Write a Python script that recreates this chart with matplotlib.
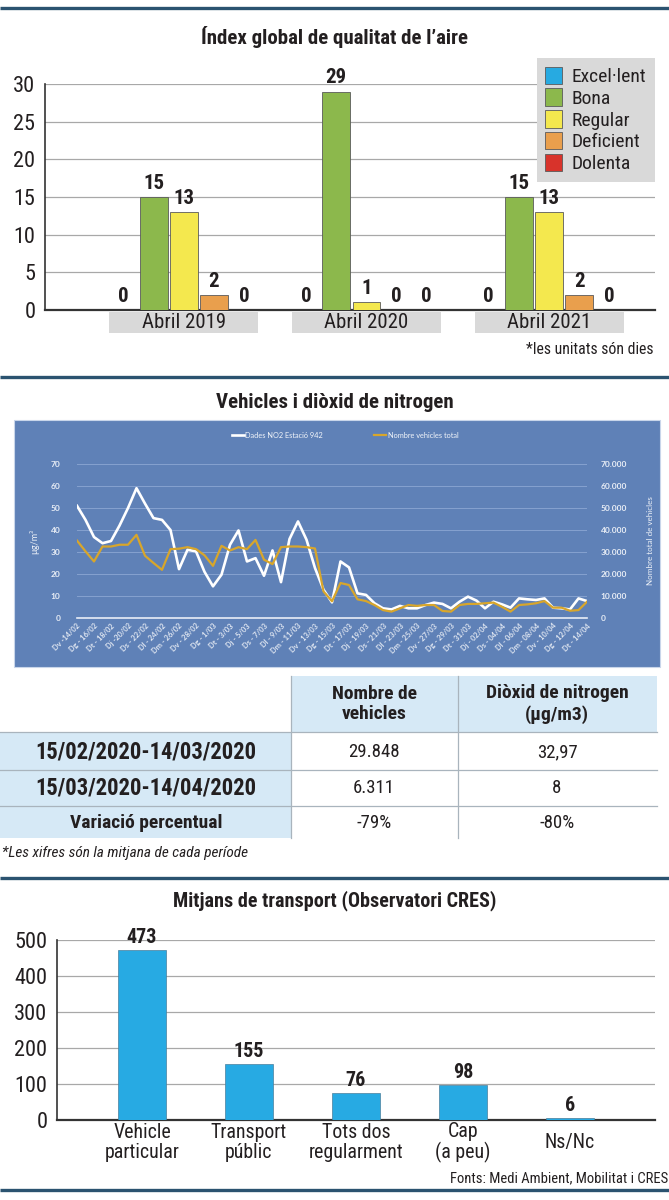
import numpy as np
import matplotlib
matplotlib.use('Agg')
import matplotlib.pyplot as plt
from matplotlib import font_manager
from matplotlib.patches import Rectangle

# pick a condensed face if there is one
fonts = font_manager.fontManager.ttflist
names = {f.name for f in fonts}
narrow = None
for cand in ['Roboto Condensed', 'Liberation Sans Narrow', 'Open Sans Condensed', 'Noto Sans Display']:
    if cand in names:
        narrow = cand
        break
stretch = 'normal'
if narrow is None:
    if any(f.name == 'DejaVu Sans' and f.stretch == 'condensed' for f in fonts):
        narrow = 'DejaVu Sans'
        stretch = 'condensed'
    else:
        narrow = 'Roboto' if 'Roboto' in names else 'DejaVu Sans'
plt.rcParams['font.family'] = [narrow, 'DejaVu Sans']
plt.rcParams['font.stretch'] = stretch
small_font = ['Lato', 'DejaVu Sans']

# --- chart 1: air quality index (days) ---
periods = ['Abril 2019', 'Abril 2020', 'Abril 2021']
quality = ['Excel·lent', 'Bona', 'Regular', 'Deficient', 'Dolenta']
excellent = [0, 0, 0]
good = [15, 29, 15]
regular = [13, 1, 13]
deficient = [2, 0, 2]
bad = [0, 0, 0]
quality_colors = ['#27aae1', '#8cb84c', '#f4e84e', '#e99f4d', '#d8332b']

# --- chart 2: NO2 and vehicles, 14/02/2020 - 14/04/2020 ---
day_labels = ['Dv -14/02', 'Dg - 16/02', 'Dt - 18/02', 'Dj -20/02', 'Ds - 22/02',
              'Dl - 24/02', 'Dm - 26/02', 'Dv - 28/02', 'Dg - 1/03', 'Dt - 3/03',
              'Dj - 5/03', 'Ds - 7/03', 'Dl - 9/03', 'Dm - 11/03', 'Dv - 13/03',
              'Dg - 15/03', 'Dt - 17/03', 'Dj - 19/03', 'Ds - 21/03', 'Dl - 23/03',
              'Dm - 25/03', 'Dv - 27/03', 'Dg - 29/03', 'Dt - 31/03', 'Dj - 02/04',
              'Ds - 04/04', 'Dl - 06/04', 'Dm - 08/04', 'Dv - 10/04', 'Dg - 12/04',
              'Dt - 14/04']
no2 = [51, 44.6, 36.8, 34, 35, 42, 50, 59, 52, 45.4,
       44.6, 40, 22.2, 31, 30.3, 21, 14.4, 19.7, 33.3, 39.8,
       25.7, 27.2, 19.2, 30.7, 16.3, 35.9, 43.9, 35.6, 22.7, 12.9,
       7.1, 25.7, 23, 11.2, 10.5, 6.7, 4.4, 3.9, 5.5, 4.4,
       4.4, 5.9, 7, 6.4, 4.4, 7.4, 9.7, 7.9, 4.4, 7.4,
       6.2, 4.7, 8.9, 8.5, 8.2, 8.9, 4.7, 4.4, 3.9, 8.9, 7.7]
vehicles = [35200, 30300, 25700, 32500, 32500, 33300, 33300, 37800, 28300, 25000,
            21900, 31300, 31500, 32200, 31300, 28500, 23700, 32800, 30700, 32200,
            31300, 35500, 26500, 24500, 32200, 32500, 32500, 32200, 31600, 12100,
            7600, 15900, 15000, 8500, 7700, 5900, 3600, 2900, 4400, 5900,
            5500, 5900, 5900, 3200, 2900, 5900, 6400, 6400, 6700, 7000,
            5100, 2900, 5900, 6200, 6700, 7700, 4700, 4700, 3300, 3600, 7400]

# --- table ---
table_cols = ['Nombre de\nvehicles', 'Diòxid de nitrogen\n(µg/m3)']
table_rows = ['15/02/2020-14/03/2020', '15/03/2020-14/04/2020', 'Variació percentual']
vehicles_col = ['29.848', '6.311', '-79%']
no2_col = ['32,97', '8', '-80%']

# --- chart 3: transport modes ---
modes = ['Vehicle\nparticular', 'Transport\npúblic', 'Tots dos\nregularment', 'Cap\n(a peu)', 'Ns/Nc']
mode_counts = [473, 155, 76, 98, 6]

W, H = 669, 1200
dark = '#231f20'
rule = '#2b5370'
grid = '#a8a8a8'

fig = plt.figure(figsize=(W / 100, H / 100), dpi=100)

# overlay in pixel coordinates for rules, panel and table
ov = fig.add_axes([0, 0, 1, 1])
ov.set_xlim(0, W)
ov.set_ylim(H, 0)
ov.axis('off')


def ax_at(x0, y0, x1, y1):
    return fig.add_axes([x0 / W, 1 - y1 / H, (x1 - x0) / W, (y1 - y0) / H])


for y in [8, 377, 878, 1190]:
    ov.plot([0, W], [y, y], color=rule, lw=2.4, solid_capstyle='butt')

# ---------------- chart 1 ----------------
ov.text(W / 2, 37, 'Índex global de qualitat de l’aire', ha='center', va='center',
        fontsize=15, fontweight='bold', color=dark)

ax1 = ax_at(45, 84, 655, 310)
x = np.arange(len(periods))
slot = 0.165
width = 0.152
series = [excellent, good, regular, deficient, bad]
for j, vals in enumerate(series):
    pos = x + (j - 2) * slot
    ax1.bar(pos, vals, width, color=quality_colors[j], edgecolor='#5a5a5a',
            linewidth=0.6, label=quality[j], zorder=3)
    for p, v in zip(pos, vals):
        ax1.annotate(str(v), (p, v), xytext=(0, 10), textcoords='offset points',
                     ha='center', va='center', fontsize=15, fontweight='bold',
                     color=dark, annotation_clip=False)
ax1.set_xlim(-0.76, 2.58)
ax1.set_ylim(0, 30)
ax1.set_yticks(range(0, 31, 5))
ax1.set_xticks([])
ax1.grid(axis='y', color=grid, lw=0.9, zorder=0)
for s in ['top', 'right']:
    ax1.spines[s].set_visible(False)
ax1.spines['left'].set_color('#333333')
ax1.spines['left'].set_linewidth(1.2)
ax1.spines['bottom'].set_color('#333333')
ax1.spines['bottom'].set_linewidth(1.6)
ax1.tick_params(axis='y', length=0, labelsize=16, labelcolor=dark, pad=7)
ax1.set_facecolor('none')
for i, name in enumerate(periods):
    ax1.add_patch(Rectangle((i - 0.408, -0.102), 0.816, 0.093, transform=ax1.get_xaxis_transform(),
                            facecolor='#d9d9d9', edgecolor='none', clip_on=False))
    ax1.text(i, -0.056, name, transform=ax1.get_xaxis_transform(), ha='center', va='center',
             fontsize=15, color=dark)
leg = ax1.legend(loc='upper right', bbox_to_anchor=(655 / W, 1 - 58 / H),
                 bbox_transform=fig.transFigure, fontsize=14, frameon=True,
                 fancybox=False, facecolor='#d9d9d9', edgecolor='none', framealpha=1,
                 handlelength=0.85, handleheight=1.0, handletextpad=0.5,
                 labelspacing=0.12, borderpad=0.45, borderaxespad=0)
for t in leg.get_texts():
    t.set_color(dark)
ov.text(653, 349, '*les unitats són dies', ha='right', va='center', fontsize=11.3, color=dark)

# ---------------- chart 2 ----------------
ov.text(W / 2, 402, 'Vehicles i diòxid de nitrogen', ha='center', va='center',
        fontsize=15, fontweight='bold', color=dark)
panel_blue = '#5f81b7'
ov.add_patch(Rectangle((14, 420), 646, 247, facecolor=panel_blue, edgecolor='#c9d6ea', lw=0.8))

ax2 = ax_at(77, 464, 587, 618)
ax2.set_facecolor('none')
days = np.arange(len(no2))
l1, = ax2.plot(days, no2, color='white', lw=1.9, label='Dades NO2 Estació 942', zorder=3)
ax2.set_xlim(0, 60)
ax2.set_ylim(0, 70)
ax2.set_yticks(range(0, 71, 10))
ax2.set_xticks(days[::2])
ax2.set_xticklabels(day_labels, rotation=45, ha='right', rotation_mode='anchor')
ax2.grid(axis='y', color='#86a2cf', lw=0.7)
for s in ['top', 'right', 'left']:
    ax2.spines[s].set_visible(False)
ax2.spines['bottom'].set_color('#e8eef7')
ax2.spines['bottom'].set_linewidth(1.2)
ax2.tick_params(axis='y', length=0, labelsize=6, labelcolor='#e9eef6', pad=12)
ax2.tick_params(axis='x', length=0, labelsize=5.4, labelcolor='#dfe6f1', pad=3)
for lab in ax2.get_xticklabels() + ax2.get_yticklabels():
    lab.set_fontfamily(small_font)
    lab.set_fontstretch('normal')
    lab.set_fontweight('bold')
ax2.set_ylabel('µg/m³', fontsize=6.5, color='#eef2f8', family=small_font, labelpad=8)

ax2b = ax2.twinx()
l2, = ax2b.plot(days, vehicles, color='#d8a62b', lw=1.6, label='Nombre vehicles total', zorder=4)
ax2b.set_ylim(0, 70000)
ax2b.set_yticks(range(0, 70001, 10000))
ax2b.set_yticklabels([f'{v:,}'.replace(',', '.') for v in range(0, 70001, 10000)])
for s in ax2b.spines.values():
    s.set_visible(False)
ax2b.tick_params(axis='y', length=0, labelsize=6, labelcolor='#e9eef6', pad=10)
for lab in ax2b.get_yticklabels():
    lab.set_fontfamily(small_font)
    lab.set_fontstretch('normal')
    lab.set_fontweight('bold')
ax2b.set_ylabel('Nombre total de vehicles', fontsize=5.8, color='#eef2f8',
                family=small_font, labelpad=14)
leg2 = ax2.legend(handles=[l1, l2], loc='center', bbox_to_anchor=(345 / W, 1 - 435 / H),
                  bbox_transform=fig.transFigure, ncol=2, frameon=False, fontsize=5.3,
                  handlelength=1.6, handletextpad=0.2, columnspacing=7)
for t in leg2.get_texts():
    t.set_color('#f2f5fa')
    t.set_fontfamily(small_font)

# ---------------- table ----------------
light = '#d6e9f6'
ov.add_patch(Rectangle((291, 676), 366, 56, facecolor=light, edgecolor='none'))
ov.add_patch(Rectangle((0, 732), 291, 106, facecolor=light, edgecolor='none'))
for y in [732, 770, 806]:
    ov.plot([0, 657], [y, y], color='#a9b4bd', lw=0.9)
for xv in [291, 458]:
    ov.plot([xv, xv], [676, 838], color='#a9b4bd', lw=0.9)
col_x = [374, 557]
row_y = [752, 788, 823]
for cx, head in zip(col_x, table_cols):
    ov.text(cx, 704, head, ha='center', va='center', fontsize=14, fontweight='bold',
            color=dark, linespacing=1.2)
for ry, name in zip(row_y, table_rows):
    ov.text(146, ry, name, ha='center', va='center', fontweight='bold', color=dark,
            fontsize=16.3 if name[0].isdigit() else 14)
for ry, a, b in zip(row_y, vehicles_col, no2_col):
    ov.text(col_x[0], ry, a, ha='center', va='center', fontsize=13.5, color=dark)
    ov.text(col_x[1], ry, b, ha='center', va='center', fontsize=13.5, color=dark)
ov.text(2, 853, '*Les xifres són la mitjana de cada període', ha='left', va='center',
        fontsize=11, style='italic', color=dark)

# ---------------- chart 3 ----------------
ov.text(W / 2, 901, 'Mitjans de transport (Observatori CRES)', ha='center', va='center',
        fontsize=14.5, fontweight='bold', color=dark)
ax3 = ax_at(57, 940, 655, 1120)
xm = np.arange(len(modes))
ax3.bar(xm, mode_counts, 0.45, color='#27aae3', edgecolor='#4a7f9c', linewidth=0.5, zorder=3)
for p, v in zip(xm, mode_counts):
    ax3.annotate(str(v), (p, v), xytext=(0, 9), textcoords='offset points', ha='center',
                 va='center', fontsize=14.5, fontweight='bold', color=dark, annotation_clip=False)
ax3.set_xlim(-0.794, 4.794)
ax3.set_ylim(0, 500)
ax3.set_yticks(range(0, 501, 100))
ax3.set_xticks([])
ax3.grid(axis='y', color=grid, lw=0.9, zorder=0)
for s in ['top', 'right']:
    ax3.spines[s].set_visible(False)
ax3.spines['left'].set_color('#333333')
ax3.spines['left'].set_linewidth(1.2)
ax3.spines['bottom'].set_color('#333333')
ax3.spines['bottom'].set_linewidth(1.6)
ax3.tick_params(axis='y', length=0, labelsize=16, labelcolor=dark, pad=7)
ax3.set_facecolor('none')
for p, name in zip(xm, modes):
    ax3.text(p, -0.125, name, transform=ax3.get_xaxis_transform(), ha='center', va='center',
             fontsize=14.3, color=dark, linespacing=1.0)
ov.text(668, 1178, 'Fonts: Medi Ambient, Mobilitat i CRES', ha='right', va='center',
        fontsize=10.5, color=dark)

fig.savefig('out.png', dpi=100)
